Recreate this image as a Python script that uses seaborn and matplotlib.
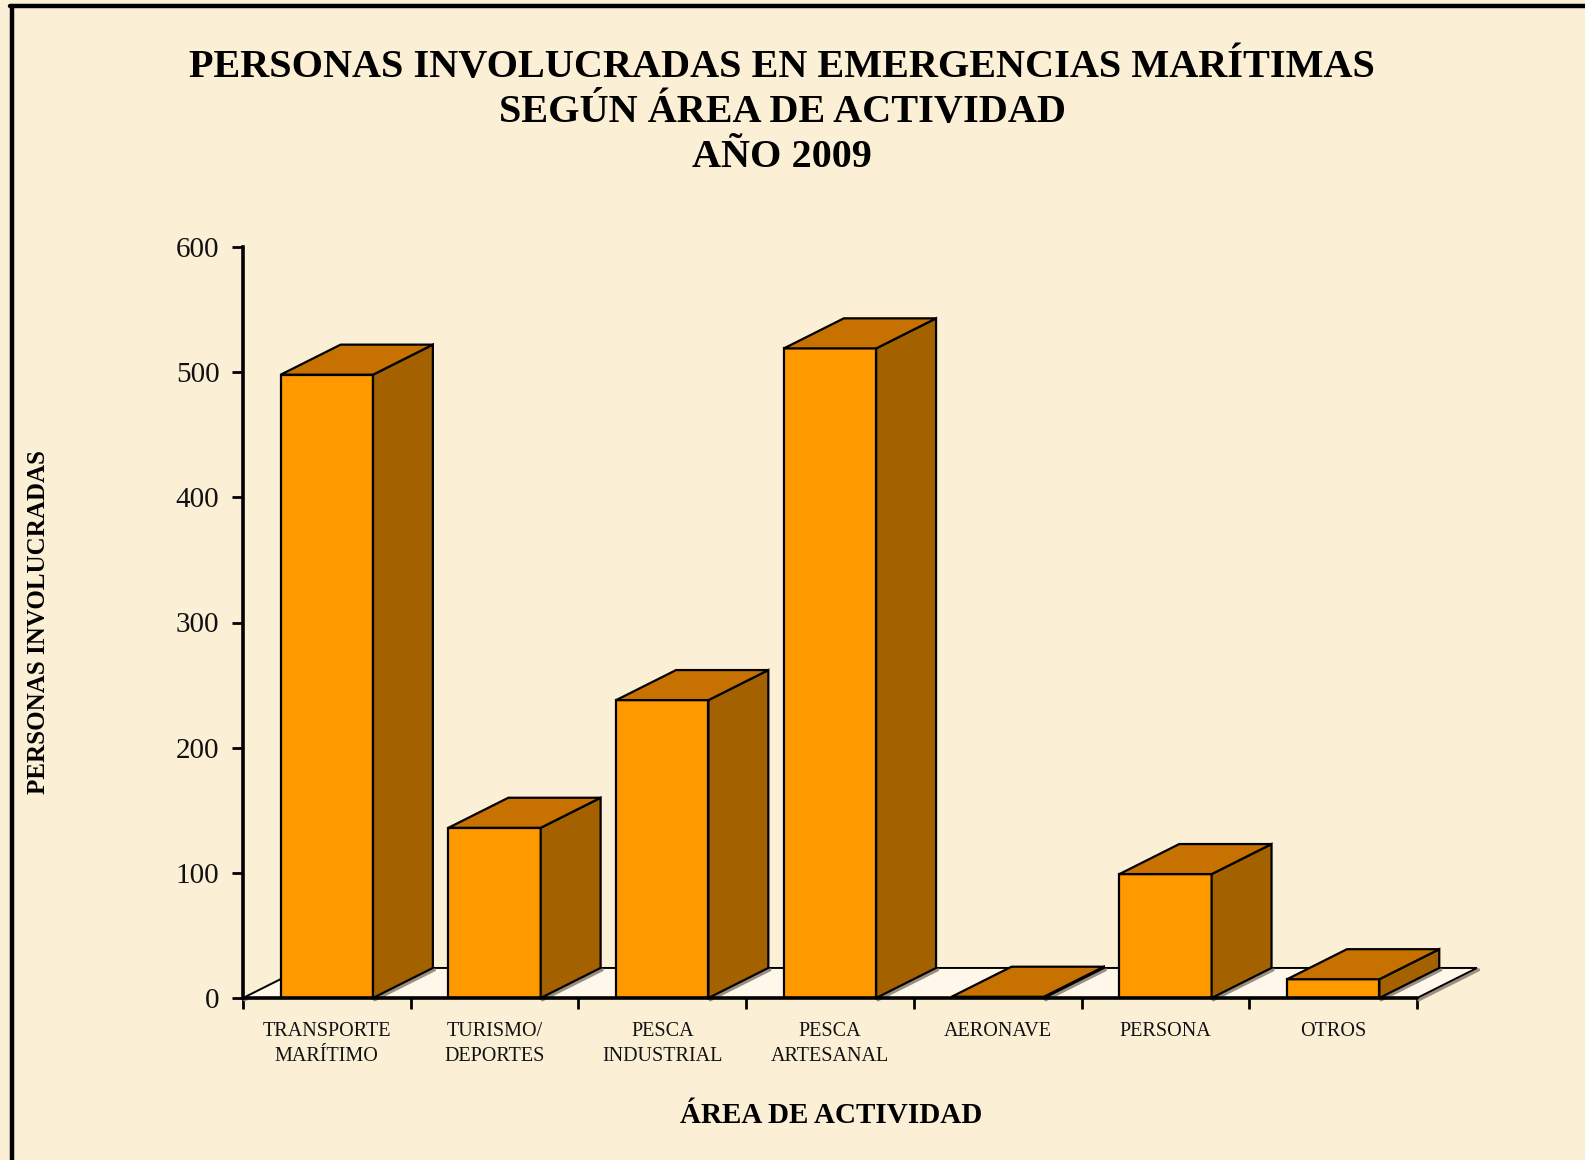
import numpy as np
import pandas as pd
import matplotlib
matplotlib.use("Agg")
import matplotlib.pyplot as plt
from matplotlib.patches import Polygon
from matplotlib.lines import Line2D
import seaborn as sns

# ---- data ----
categories = ["TRANSPORTE\nMARÍTIMO", "TURISMO/\nDEPORTES", "PESCA\nINDUSTRIAL",
              "PESCA\nARTESANAL", "AERONAVE", "PERSONA", "OTROS"]
personas = [498, 136, 238, 519, 1, 99, 15]
y_ticks = [0, 100, 200, 300, 400, 500, 600]
title_lines = ["PERSONAS INVOLUCRADAS EN EMERGENCIAS MARÍTIMAS",
               "SEGÚN ÁREA DE ACTIVIDAD",
               "AÑO 2009"]
x_title = "ÁREA DE ACTIVIDAD"
y_title = "PERSONAS INVOLUCRADAS"

# ---- style ----
BG = "#FBEFD6"
FLOOR = "#FEF7EA"
FRONT = "#FF9900"
TOP = "#C77200"
SIDE = "#A36100"

sns.set_theme(style="white")
plt.rcParams["font.family"] = ["Liberation Serif", "DejaVu Serif"]

fig = plt.figure(figsize=(15.85, 11.6), dpi=100, facecolor=BG)
ax = fig.add_axes([243/1585, (1160-998)/1160, 1234/1585, 751/1160])
ax.patch.set_alpha(0)

df = pd.DataFrame({"cat": categories, "val": personas})
sns.barplot(data=df, x="cat", y="val", color=FRONT, saturation=1,
            edgecolor="black", linewidth=1.6, width=0.55, ax=ax, zorder=3)

n = len(categories)
dx = 0.357   # depth in category units
dy = 24.0    # depth in data units

# floor (with a soft grey shadow on the diagonal edges)
floor = Polygon([(-0.5, 0), (n - 0.5, 0), (n - 0.5 + dx, dy), (-0.5 + dx, dy)],
                closed=True, facecolor=FLOOR, edgecolor="black", linewidth=1.4,
                zorder=1, clip_on=False)
ax.add_patch(floor)
for xs in (-0.5, n - 0.5):
    ax.add_line(Line2D([xs + 0.01, xs + dx + 0.01], [-1.5, dy - 1.5],
                       color="#9a9080", lw=2.2, zorder=0.9, clip_on=False))
ax.add_line(Line2D([-0.5, n - 0.5], [0, 0], color="black", lw=2.6,
                   zorder=6, clip_on=False))

# 3D faces of bars
bars = [p for p in ax.patches if p is not floor]
for p in bars:
    x0 = p.get_x()
    w = p.get_width()
    h = p.get_height()
    x1 = x0 + w
    ax.add_line(Line2D([x1 + 0.01, x1 + dx + 0.01], [-1.5, dy - 1.5],
                       color="#9a9080", lw=2.2, zorder=2, clip_on=False))
    side = Polygon([(x1, 0), (x1 + dx, dy), (x1 + dx, h + dy), (x1, h)],
                   closed=True, facecolor=SIDE, edgecolor="black",
                   linewidth=1.6, zorder=3, clip_on=False)
    top = Polygon([(x0, h), (x0 + dx, h + dy), (x1 + dx, h + dy), (x1, h)],
                  closed=True, facecolor=TOP, edgecolor="black",
                  linewidth=1.6, zorder=3, clip_on=False)
    ax.add_patch(side)
    ax.add_patch(top)

ax.set_xlim(-0.5, n - 0.5 + dx)
ax.set_ylim(0, 600)
ax.set_yticks(y_ticks)
ax.set_xticks(range(n))
ax.set_xticklabels(categories, fontsize=14.5, color="#111111", linespacing=1.45)
ax.set_xticks(np.arange(n + 1) - 0.5, minor=True)
ax.tick_params(axis="x", which="major", length=0, pad=17)
ax.tick_params(axis="x", which="minor", length=8, width=2, color="black",
               direction="out", bottom=True)
ax.tick_params(axis="y", which="major", length=8, width=2, color="black",
               direction="out", left=True, labelsize=21, pad=9,
               labelcolor="#111111")
ax.set_xlabel("")
ax.set_ylabel("")
for s in ["top", "right", "bottom"]:
    ax.spines[s].set_visible(False)
ax.spines["left"].set_color("black")
ax.spines["left"].set_linewidth(2.6)
ax.spines["left"].set_zorder(7)
ax.grid(False)

# titles
ys = [1 - 77/1160, 1 - 122/1160, 1 - 167/1160]
for t, y in zip(title_lines, ys):
    fig.text(0.4934, y, t, ha="center", va="baseline", fontsize=29,
             fontweight="bold", color="black")
fig.text(831/1585, 1 - 1123/1160, x_title, ha="center", va="baseline",
         fontsize=21, fontweight="bold", color="black")
fig.text(39/1585, 1 - 622/1160, y_title, ha="center", va="center",
         rotation=90, fontsize=18, fontweight="bold", color="black")

# frame lines (top and left)
fig.add_artist(Line2D([10/1585, 1], [1 - 6/1160, 1 - 6/1160],
                      transform=fig.transFigure, color="black", lw=3.2))
fig.add_artist(Line2D([11.5/1585, 11.5/1585], [0, 1 - 6/1160],
                      transform=fig.transFigure, color="black", lw=3.2))

fig.savefig("out.png", dpi=100, facecolor=BG)
